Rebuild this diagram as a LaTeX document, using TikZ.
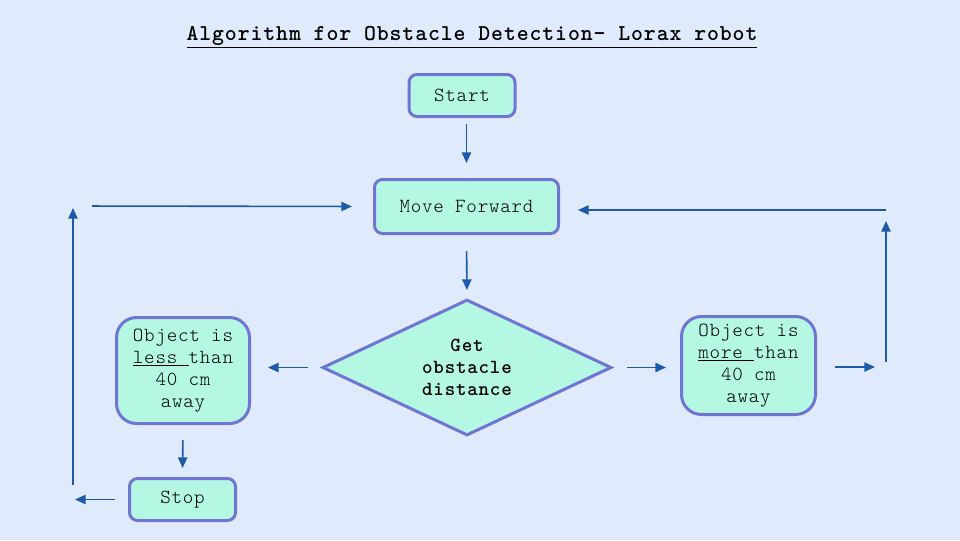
\documentclass[tikz,border=0pt]{standalone}
\usepackage{fontspec}
\setmainfont{Latin Modern Mono Light}[LetterSpace=4]
\usetikzlibrary{arrows.meta}
\usepgflibrary{shapes.geometric}
\definecolor{bgblue}{RGB}{223,234,252}
\definecolor{mint}{RGB}{180,247,227}
\definecolor{rim}{RGB}{112,116,211}
\definecolor{flowblue}{RGB}{30,90,170}
\tikzset{%
stepbox/.style={draw=rim,fill=mint,line width=2.25pt,rounded corners=6pt,inner sep=2pt,
  align=center,font=\fontsize{15}{16.5}\selectfont},
condbox/.style={stepbox,rounded corners=15pt},
question/.style={diamond,aspect=2.1,draw=rim,fill=mint,line width=2.25pt,inner sep=0pt,
  align=center,font=\fontsize{15}{16.5}\selectfont\bfseries},
flow/.style={draw=flowblue,line width=1.2pt,-{Triangle[length=8pt,width=7pt]}},
title/.style={font=\fontsize{17}{19}\selectfont\bfseries}
}
\begin{document}
\begin{tikzpicture}[x=0.75pt,y=-0.75pt]

    \fill[bgblue] (0,0) rectangle (960,540);

    \node[title] (ttl) at (472,37) {\underline{Algorithm for Obstacle Detection- Lorax robot}};

    \node[stepbox,minimum width=79.5pt,minimum height=31.5pt] (start) at (462,95.5) {Start};
    \node[stepbox,minimum width=138pt,minimum height=40.5pt] (move) at (466.5,206.5) {Move Forward};
    \node[question,minimum width=216.75pt,minimum height=102pt] (dist) at (467,367.5) {Get\\obstacle\\distance};
    \node[condbox,minimum width=99.75pt,minimum height=79.5pt] (less) at (183,370.5)
        {Object is\\\underline{less\ }than\\40 cm\\away};
    \node[condbox,minimum width=100.5pt,minimum height=73.5pt] (more) at (748.5,365.5)
        {Object is\\\underline{more\ }than\\40 cm\\away};
    \node[stepbox,minimum width=79.5pt,minimum height=31.5pt] (stop) at (182.5,499.5) {Stop};

    % corners of the two return loops
    \coordinate (lbot) at (73,499.5);
    \coordinate (ltop) at (73,206);
    \coordinate (rbot) at (886,367);
    \coordinate (rtop) at (886,210);

    \draw[flow,shorten <=4.5pt,shorten >=11.25pt] (move.north |- start.south) -- (move.north);
    \draw[flow,shorten <=12pt,shorten >=6pt] (move.south) -- (dist.north);
    \draw[flow,shorten <=9.75pt,shorten >=12.75pt] (dist.west) -- (less.east |- dist.west);
    \draw[flow,shorten <=10.5pt,shorten >=10.5pt] (dist.east) -- (more.west |- dist.east);
    \draw[flow,shorten <=11.25pt,shorten >=6.75pt] (less.south) -- (stop.north);

    \draw[flow,shorten <=9.75pt,shorten >=1.5pt] (stop.west) -- (lbot);
    \draw[flow,shorten <=10.9pt,shorten >=1.5pt] (lbot) -- (ltop);
    \draw[flow,shorten <=14.25pt,shorten >=15.75pt] (ltop) -- (move.west);

    \draw[flow,shorten <=13.5pt,shorten >=8.25pt] (more.east |- rbot) -- (rbot);
    \draw[flow,shorten <=3.75pt,shorten >=8.25pt] (rbot) -- (rtop);
    \draw[flow,shorten >=13.5pt] (rtop) -- (move.east |- rtop);

  \end{tikzpicture}
\end{document}
